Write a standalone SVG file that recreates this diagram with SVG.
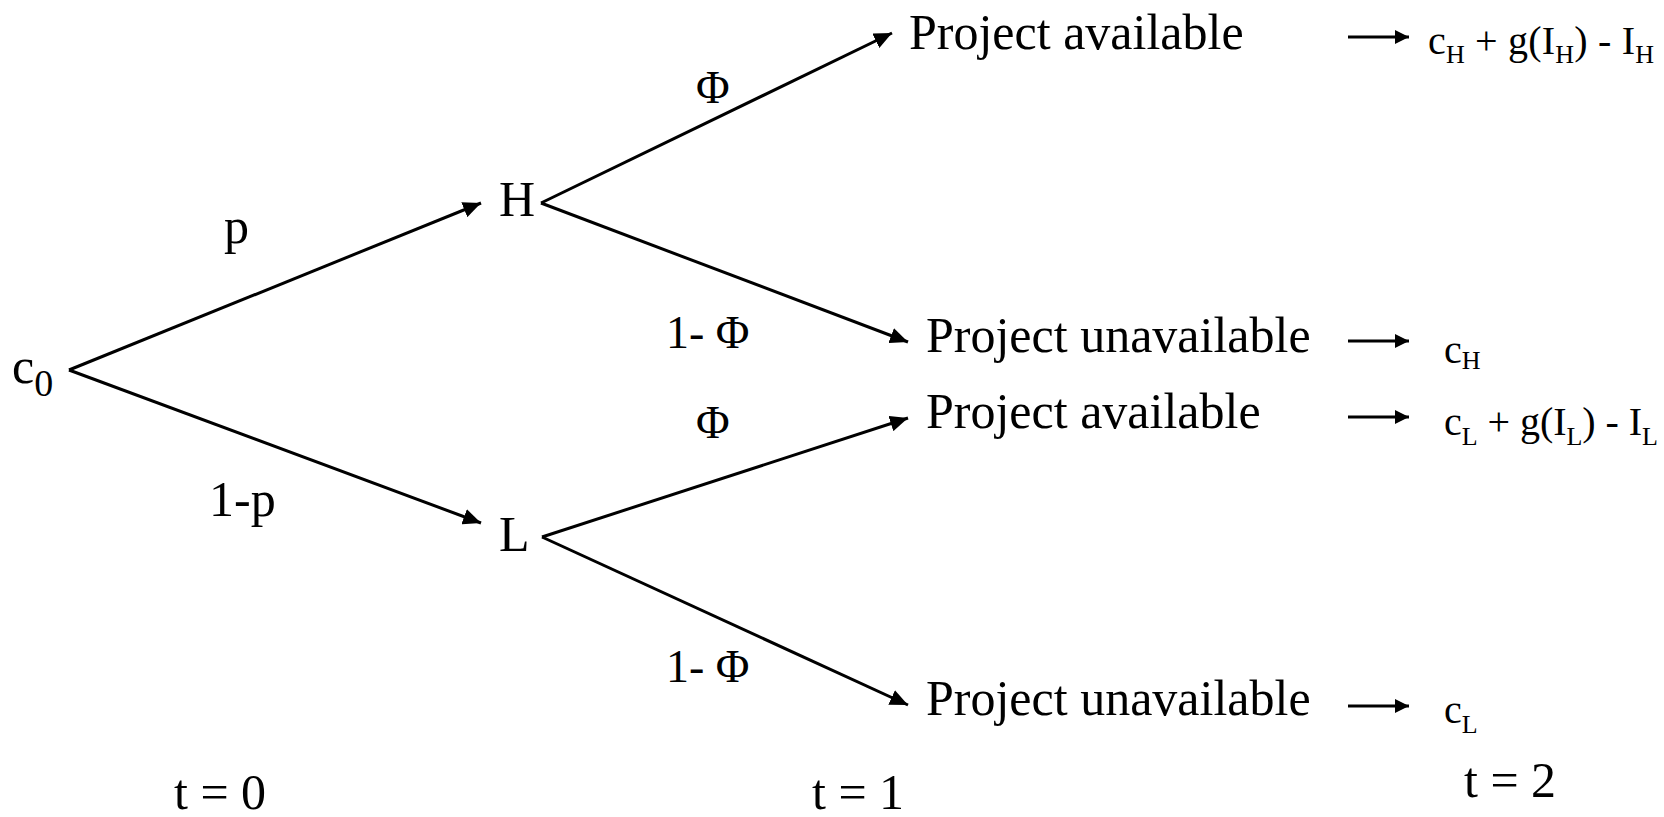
<svg xmlns="http://www.w3.org/2000/svg" width="1664" height="817" viewBox="0 0 1664 817">
  <style>
    text { font-family: "Liberation Serif", "Times New Roman", serif; fill: #000; }
    .big { font-size: 50px; }
    .prob { font-size: 46px; }
    .pay { font-size: 40px; }
    .sub { font-size: 26px; }
    .edge { stroke: #000; stroke-width: 3; fill: none; marker-end: url(#head); }
    .out { stroke: #000; stroke-width: 3; fill: none; marker-end: url(#headSmall); }
  </style>
  <defs>
    <marker id="head" markerUnits="userSpaceOnUse" markerWidth="18" markerHeight="16" refX="18" refY="8" orient="auto">
      <path d="M0,0 L18,8 L0,16 Z" fill="#000"/>
    </marker>
    <marker id="headSmall" markerUnits="userSpaceOnUse" markerWidth="14" markerHeight="14" refX="14" refY="7" orient="auto">
      <path d="M0,0 L14,7 L0,14 Z" fill="#000"/>
    </marker>
  </defs>
  <rect width="1664" height="817" fill="#fff"/>

  <!-- tree edges and payoff arrows -->
  <g id="connectors">
    <line class="edge" x1="69" y1="370" x2="481" y2="203"/>
    <line class="edge" x1="69" y1="370" x2="481" y2="523"/>
    <line class="edge" x1="541" y1="203" x2="892" y2="33"/>
    <line class="edge" x1="541" y1="203" x2="908" y2="342"/>
    <line class="edge" x1="542" y1="537" x2="908" y2="418"/>
    <line class="edge" x1="542" y1="537" x2="908" y2="705"/>
    <line class="out" x1="1348" y1="37" x2="1409" y2="37"/>
    <line class="out" x1="1348" y1="341" x2="1409" y2="341"/>
    <line class="out" x1="1348" y1="417" x2="1409" y2="417"/>
    <line class="out" x1="1348" y1="706" x2="1409" y2="706"/>
  </g>

  <!-- branch probabilities -->
  <g id="edge-labels">
    <text class="big" x="224" y="243">p</text>
    <text class="big" x="209" y="516">1-p</text>
    <text class="prob" x="696" y="103">Φ</text>
    <text class="prob" x="666" y="348">1- Φ</text>
    <text class="prob" x="696" y="438">Φ</text>
    <text class="prob" x="666" y="682">1- Φ</text>
  </g>

  <g id="node-c0">
    <text class="big" x="12" y="383">c<tspan font-size="38" dy="13">0</tspan></text>
  </g>
  <g id="node-H">
    <text class="big" x="499" y="216">H</text>
  </g>
  <g id="node-L">
    <text class="big" x="499" y="551">L</text>
  </g>

  <g id="node-H-available">
    <text class="big" x="909" y="49">Project available</text>
  </g>
  <g id="node-H-unavailable">
    <text class="big" x="926" y="352">Project unavailable</text>
  </g>
  <g id="node-L-available">
    <text class="big" x="926" y="428">Project available</text>
  </g>
  <g id="node-L-unavailable">
    <text class="big" x="926" y="715">Project unavailable</text>
  </g>

  <!-- payoffs at t = 2 -->
  <g id="payoff-H-available">
    <text class="pay" x="1428" y="54" textLength="226" lengthAdjust="spacing">c<tspan class="sub" dy="9">H</tspan><tspan dy="-9"> + g(I</tspan><tspan class="sub" dy="9">H</tspan><tspan dy="-9">) - I</tspan><tspan class="sub" dy="9">H</tspan></text>
  </g>
  <g id="payoff-H-unavailable">
    <text class="pay" x="1444" y="363">c<tspan class="sub" dy="6">H</tspan></text>
  </g>
  <g id="payoff-L-available">
    <text class="pay" x="1444" y="435" textLength="214" lengthAdjust="spacing">c<tspan class="sub" dy="10">L</tspan><tspan dy="-10"> + g(I</tspan><tspan class="sub" dy="10">L</tspan><tspan dy="-10">) - I</tspan><tspan class="sub" dy="10">L</tspan></text>
  </g>
  <g id="payoff-L-unavailable">
    <text class="pay" x="1444" y="723">c<tspan class="sub" dy="10">L</tspan></text>
  </g>

  <!-- time axis -->
  <g id="time-labels">
    <text class="big" x="174" y="809">t = 0</text>
    <text class="big" x="812" y="809">t = 1</text>
    <text class="big" x="1464" y="797">t = 2</text>
  </g>
</svg>
